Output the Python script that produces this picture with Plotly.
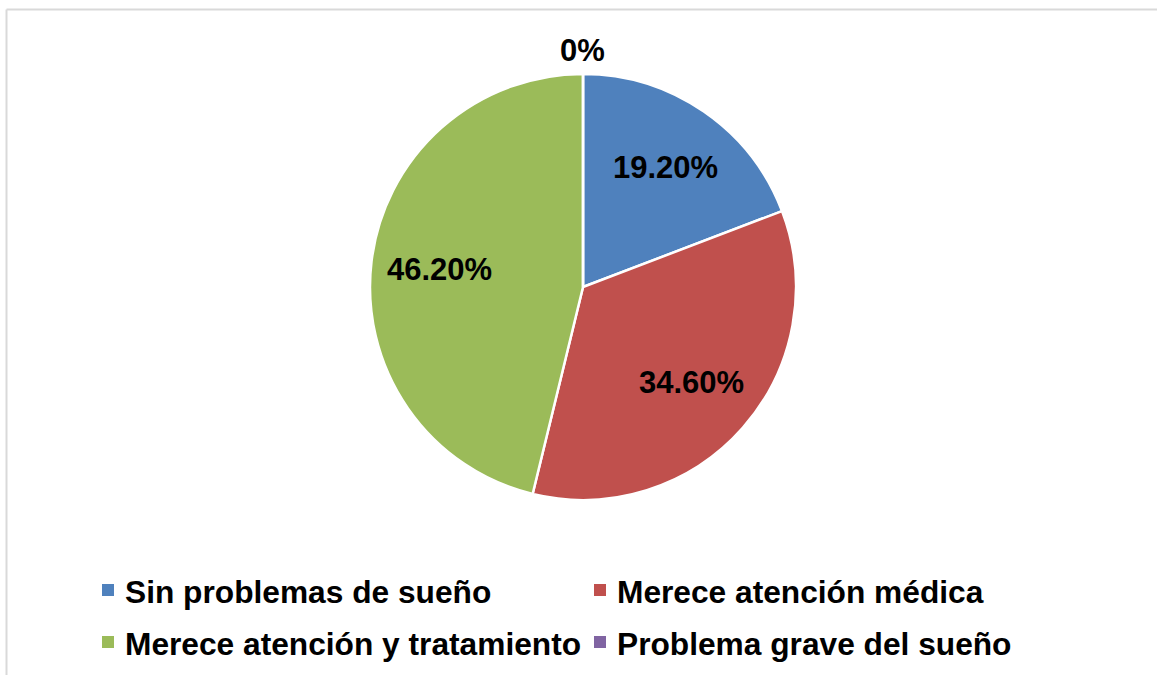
import math
import plotly.graph_objects as go

categories = ["Sin problemas de sueño", "Merece atención médica",
              "Merece atención y tratamiento", "Problema grave del sueño"]
values = [19.2, 34.6, 46.2, 0.0]
colors = ["#4F81BD", "#C0504D", "#9BBB59", "#8064A2"]

W, H = 1157, 675
FONT = "Arial, 'Liberation Sans', sans-serif"

cx, cy, r = 583, 287, 213

fig = go.Figure(go.Pie(
    labels=categories, values=values, sort=False, direction="clockwise",
    rotation=0, textinfo="none",
    marker=dict(colors=colors, line=dict(color="white", width=2.5)),
    domain=dict(x=[(cx - r) / W, (cx + r) / W], y=[1 - (cy + r) / H, 1 - (cy - r) / H]),
    showlegend=False, hoverinfo="label+percent",
))

annotations = []
# data labels placed along each slice's mid angle
total = sum(values)
cum = 0.0
for v in values:
    mid = (cum + v / 2) / total * 2 * math.pi
    cum += v
    rr = 0.68 * r if v else r + 24
    txt = f"{v:.2f}%" if v else "0%"
    x = cx + rr * math.sin(mid)
    y = cy - rr * math.cos(mid)
    annotations.append(dict(text=f"<b>{txt}</b>", xref="paper", yref="paper",
                            x=x / W, y=1 - y / H, xanchor="center", yanchor="middle",
                            showarrow=False, font=dict(family=FONT, size=31, color="black")))

# manual legend (2 columns)
leg_x = [108, 600]
leg_y = [590, 642]
shapes = []
for i, (cat, col) in enumerate(zip(categories, colors)):
    x = leg_x[i % 2]
    y = leg_y[i // 2]
    shapes.append(dict(type="rect", xref="paper", yref="paper",
                       x0=(x - 6) / W, x1=(x + 6) / W,
                       y0=1 - (y + 6) / H, y1=1 - (y - 6) / H,
                       fillcolor=col, line=dict(width=0)))
    annotations.append(dict(text=f"<b>{cat}</b>", xref="paper", yref="paper",
                            x=(x + 15) / W, y=1 - (y + 2) / H, xanchor="left", yanchor="middle",
                            showarrow=False, font=dict(family=FONT, size=31.7, color="black")))

# chart frame (top and left edges visible)
shapes.append(dict(type="line", xref="paper", yref="paper", x0=6.5 / W, x1=1.0, y0=1 - 9.5 / H, y1=1 - 9.5 / H,
                   line=dict(color="#D9D9D9", width=2)))
shapes.append(dict(type="line", xref="paper", yref="paper", x0=6.5 / W, x1=6.5 / W, y0=0, y1=1 - 9.5 / H,
                   line=dict(color="#D9D9D9", width=2)))

fig.update_layout(width=W, height=H, margin=dict(l=0, r=0, t=0, b=0),
                  paper_bgcolor="white", plot_bgcolor="white",
                  shapes=shapes, annotations=annotations)
fig.write_html("out.html", config={"displayModeBar": False},
               post_script="document.body.style.margin='0px';")
